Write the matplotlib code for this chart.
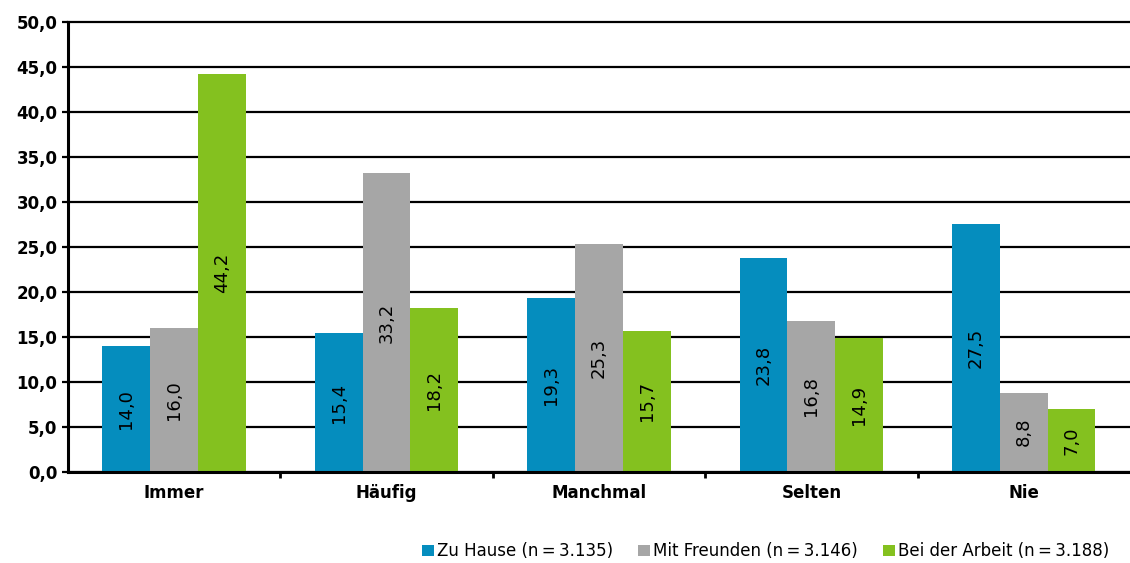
import matplotlib
matplotlib.use("Agg")
import matplotlib.pyplot as plt
import numpy as np
from matplotlib.ticker import FuncFormatter

categories = ["Immer", "Häufig", "Manchmal", "Selten", "Nie"]
zu_hause = [14.0, 15.4, 19.3, 23.8, 27.5]
mit_freunden = [16.0, 33.2, 25.3, 16.8, 8.8]
bei_arbeit = [44.2, 18.2, 15.7, 14.9, 7.0]
series_labels = ["Zu Hause (n\u2009=\u20093.135)", "Mit Freunden (n\u2009=\u20093.146)",
                 "Bei der Arbeit (n\u2009=\u20093.188)"]
colors = ["#058DBE", "#A6A6A6", "#84C11F"]

plt.rcParams["font.family"] = ["DejaVu Sans"]

fig = plt.figure(figsize=(11.3, 5.63), dpi=100)
ax = fig.add_axes([0.060, 0.162, 0.940, 0.799])

x = np.arange(len(categories))
w = 0.225
for i, (vals, col, lab) in enumerate(zip([zu_hause, mit_freunden, bei_arbeit],
                                          colors, series_labels)):
    pos = x + (i - 1) * w
    ax.bar(pos, vals, w, color=col, label=lab, zorder=3)
    for p, v in zip(pos, vals):
        ax.text(p, v / 2, f"{v:.1f}".replace(".", ","), rotation=90,
                ha="center", va="center", fontsize=13, zorder=4)

ax.set_xlim(-0.5, len(categories) - 0.5)
ax.set_ylim(0, 50)
ax.set_yticks(np.arange(0, 50.1, 5))
ax.yaxis.set_major_formatter(FuncFormatter(lambda v, _: f"{v:.1f}".replace(".", ",")))
ax.yaxis.grid(True, color="black", linewidth=1.6, zorder=0)
for gl in ax.get_ygridlines():
    gl.set_clip_on(False)
ax.set_xticks(x)
ax.set_xticklabels(categories, fontweight="bold", fontsize=12)
ax.set_xticks(np.arange(0.5, len(categories) - 0.5), minor=True)
ax.tick_params(axis="x", which="major", length=0, pad=9)
ax.tick_params(axis="x", which="minor", length=4, width=2, direction="out")
ax.tick_params(axis="y", length=4, width=1.6, labelsize=12)
for t in ax.get_yticklabels():
    t.set_fontweight("bold")

for s in ["top", "right"]:
    ax.spines[s].set_visible(False)
for s in ["left", "bottom"]:
    ax.spines[s].set_linewidth(2.2)
    ax.spines[s].set_zorder(5)

fig.legend(loc="lower right", bbox_to_anchor=(0.995, -0.022), ncol=3, frameon=False,
           fontsize=12, handlelength=0.7, handleheight=0.7, handletextpad=0.2,
           columnspacing=1.5)

fig.savefig("out.png", dpi=100)
